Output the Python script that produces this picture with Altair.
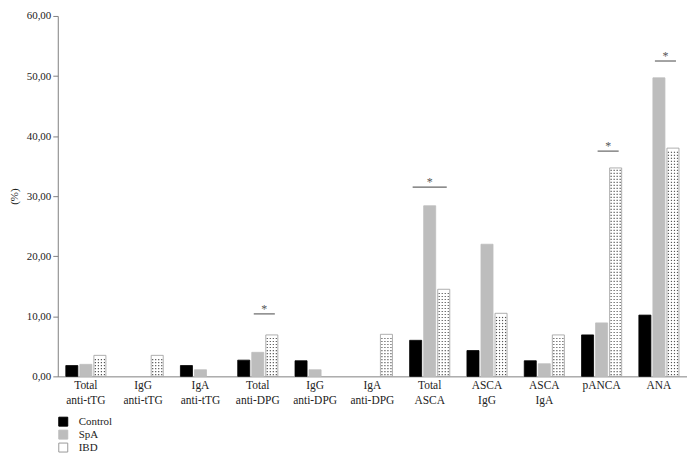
import altair as alt
import pandas as pd

categories = ["Total anti-tTG", "IgG anti-tTG", "IgA anti-tTG", "Total anti-DPG",
              "IgG anti-DPG", "IgA anti-DPG", "Total ASCA", "ASCA IgG", "ASCA IgA",
              "pANCA", "ANA"]
series = ["Control", "SpA", "IBD"]
control = [1.8, 0.0, 1.8, 2.7, 2.6, 0.0, 6.0, 4.3, 2.6, 6.9, 10.2]
spa = [2.0, 0.0, 1.1, 4.0, 1.1, 0.0, 28.4, 22.0, 2.1, 8.9, 49.7]
ibd = [3.5, 3.5, 0.0, 6.9, 0.0, 7.0, 14.5, 10.5, 6.9, 34.7, 38.0]

sig_groups = ["Total anti-DPG", "Total ASCA", "pANCA", "ANA"]
sig_from = ["SpA", "Control", "SpA", "SpA"]
sig_level = [10.4, 31.5, 37.5, 52.5]

y_ticks = [0, 10, 20, 30, 40, 50, 60]

FONT = "Liberation Serif"
TEXT = "#222222"
AXIS = "#808080"

rows = []
for s, vals in zip(series, [control, spa, ibd]):
    for c, v in zip(categories, vals):
        rows.append({"category": c, "series": s, "value": v})
df = pd.DataFrame(rows)

# dotted texture of the IBD bars
dots = []
for c, v in zip(categories, ibd):
    yy = 0.3
    while yy < v - 0.2:
        dots.append({"category": c, "value": yy})
        yy += 0.5
dots_df = pd.DataFrame(dots)

sig_df = pd.DataFrame({"category": sig_groups, "from": sig_from, "value": sig_level})

x_scale = alt.Scale(domain=categories, paddingInner=0.3, paddingOuter=0.14)
x_axis = alt.Axis(title=None, labelExpr="split(datum.label, ' ')", labelAngle=0,
                  ticks=False, domainColor=AXIS, domainWidth=1, labelFont=FONT,
                  labelFontSize=11.5, labelLineHeight=15, labelPadding=3,
                  labelColor=TEXT)
y_scale = alt.Scale(domain=[0, 60], nice=False)
y_axis = alt.Axis(title="(%)", values=y_ticks,
                  labelExpr="replace(format(datum.value, '.2f'), '.', ',')",
                  grid=False, tickSize=5, tickColor=AXIS, domainColor=AXIS,
                  labelFont=FONT, labelFontSize=11, labelColor=TEXT, labelPadding=2,
                  titleFont=FONT, titleFontSize=11, titleFontWeight="normal",
                  titleColor=TEXT, titlePadding=7)

X = alt.X("category:N", scale=x_scale, axis=x_axis)
Y = alt.Y("value:Q", scale=y_scale, axis=y_axis)
XO = alt.XOffset("series:N", scale=alt.Scale(domain=series, paddingInner=0.143, paddingOuter=0))

legend = alt.Legend(title=None, orient="none", legendX=0, legendY=402,
                    direction="vertical", symbolType="square", symbolSize=81,
                    symbolStrokeWidth=1, labelFont=FONT, labelFontSize=11,
                    labelColor=TEXT, padding=0, rowPadding=0, labelOffset=10)

bars = alt.Chart(df).transform_filter("datum.value > 0").mark_bar(strokeWidth=0.8).encode(
    x=X, xOffset=XO, y=Y,
    fill=alt.Fill("series:N", scale=alt.Scale(domain=series, range=["#000000", "#bdbdbd", "#ffffff"]), legend=legend),
    stroke=alt.Stroke("series:N", scale=alt.Scale(domain=series, range=["#000000", "#bdbdbd", "#9a9a9a"]), legend=legend),
)

dot_layers = []
for bp in [0.7375, 0.8125, 0.8875, 0.9625]:
    dot_layers.append(
        alt.Chart(dots_df).mark_square(size=1.4, color="#444444", opacity=0.9).encode(
            x=alt.X("category:N", scale=x_scale, axis=x_axis, bandPosition=bp),
            y=Y,
        )
    )

sig_layers = []
for start_name, b0 in [("SpA", 0.4), ("Control", 0.075)]:
    sub = alt.Chart(sig_df).transform_filter(alt.datum["from"] == start_name)
    sig_layers.append(
        sub.mark_rule(color="#666666", strokeWidth=1.2).encode(
            x=alt.X("category:N", scale=x_scale, axis=x_axis, bandPosition=b0),
            x2=alt.X2("category:N", bandPosition=0.925),
            y=Y,
        )
    )
    sig_layers.append(
        sub.mark_text(text="*", baseline="alphabetic", fontSize=12, font=FONT,
                      color="#555555", dy=-1).encode(
            x=alt.X("category:N", scale=x_scale, axis=x_axis, bandPosition=(b0 + 0.925) / 2),
            y=Y,
        )
    )

chart = alt.layer(bars, *dot_layers, *sig_layers).properties(
    width=632, height=362,
    autosize=alt.AutoSizeParams(type="none"),
    padding={"left": 50, "top": 7, "right": 0, "bottom": 82},
).configure_view(stroke=None)

chart.save("out.html", embed_options={"renderer": "svg", "actions": False})
